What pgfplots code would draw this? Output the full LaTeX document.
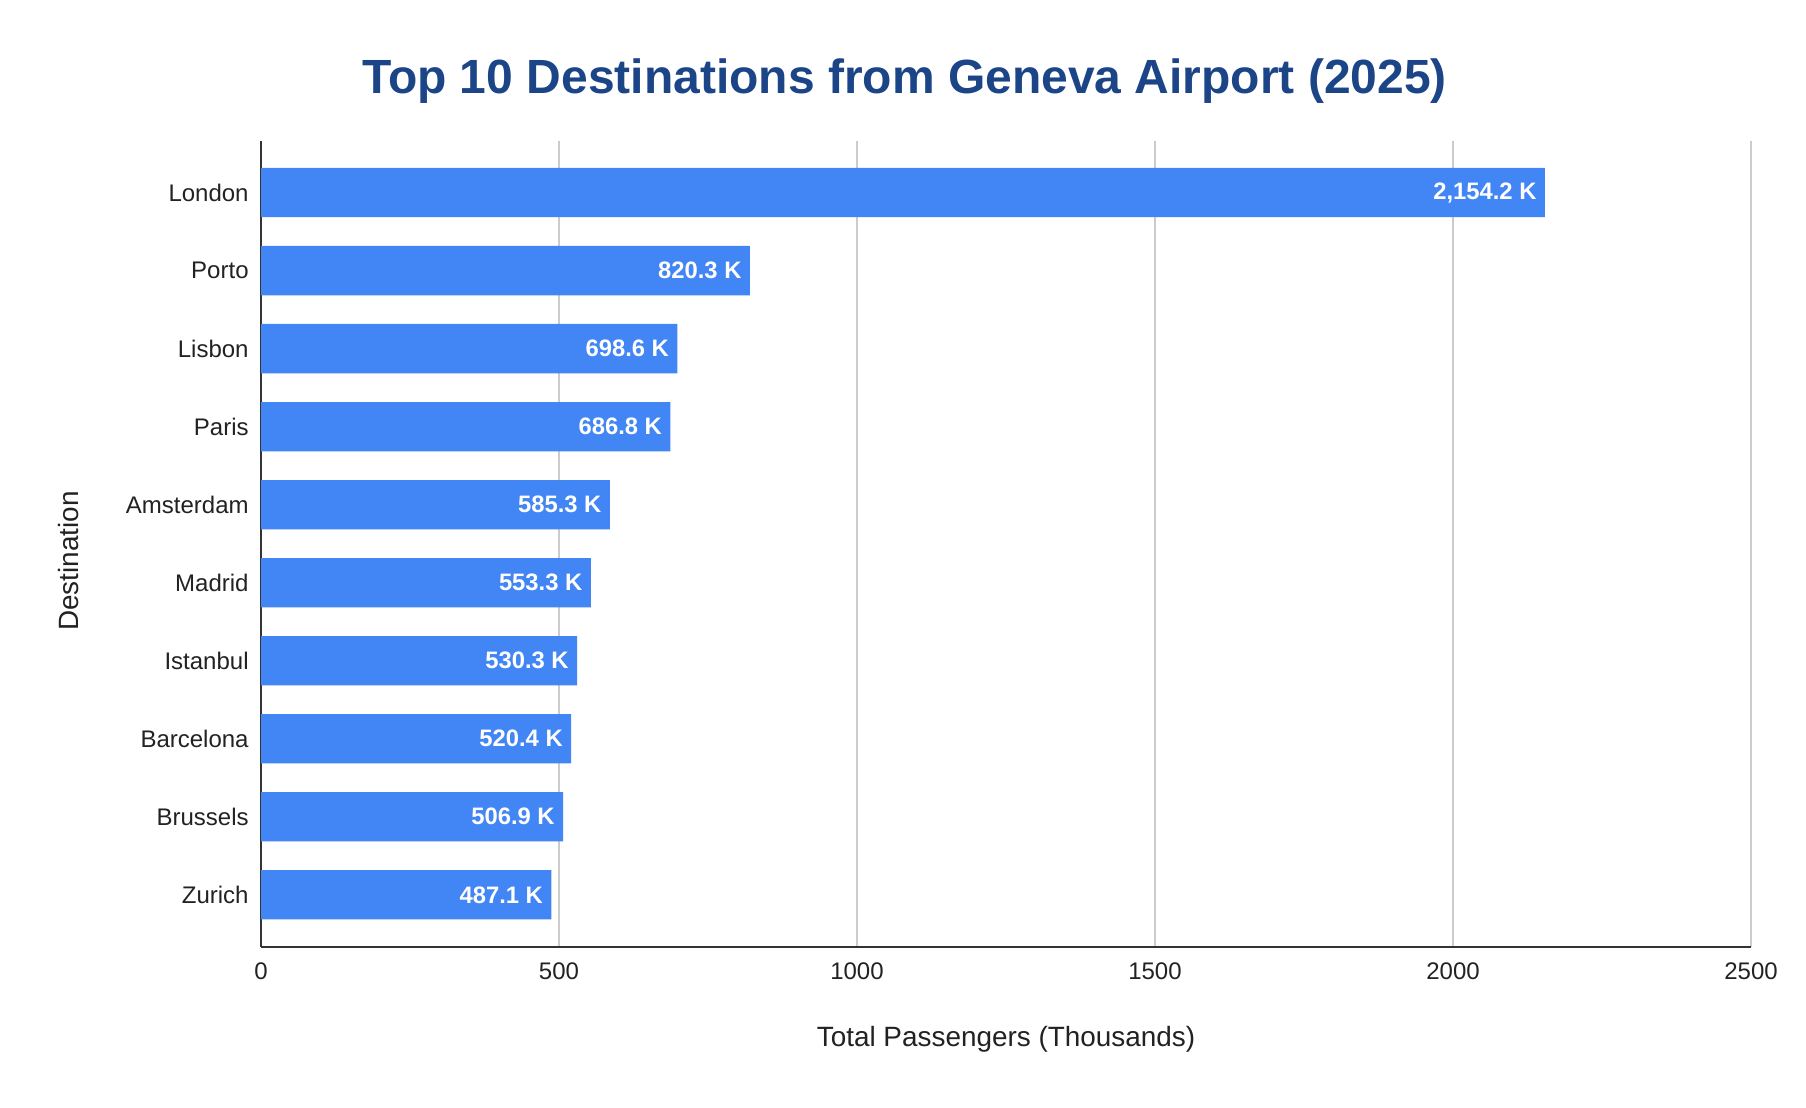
\documentclass[border=0pt]{standalone}
\usepackage{fontspec}
\setmainfont{Liberation Sans}
\usepackage{pgfplots}
\pgfplotsset{compat=1.18}
\usepackage{pgfplotstable}
\definecolor{barblue}{HTML}{4285F4}
\definecolor{titleblue}{HTML}{1C4587}
\definecolor{textgray}{HTML}{222222}
\definecolor{gridgray}{HTML}{CCCCCC}
\definecolor{axisgray}{HTML}{333333}

\pgfplotstableread[col sep=semicolon]{
pos;val;lab
0;2154.2;2,154.2 K
1;820.3;820.3 K
2;698.6;698.6 K
3;686.8;686.8 K
4;585.3;585.3 K
5;553.3;553.3 K
6;530.3;530.3 K
7;520.4;520.4 K
8;506.9;506.9 K
9;487.1;487.1 K
}\passengers

\begin{document}
\begin{tikzpicture}
\useasboundingbox (0,0) rectangle (903pt,554pt);
\node[anchor=base, text=titleblue, font=\fontsize{24}{28}\selectfont\bfseries] at (452.3pt,507pt) {Top 10 Destinations from Geneva Airport (2025)};
\begin{axis}[
  at={(130.5pt,80.65pt)}, anchor=south west,
  scale only axis, width=745pt, height=403pt,
  xbar, bar width=24.65pt,
  xmin=0, xmax=2500,
  ymin=-0.665, ymax=9.665,
  y dir=reverse,
  xtick={0,500,1000,1500,2000,2500},
  ytick={0,1,2,3,4,5,6,7,8,9},
  yticklabels={London,Porto,Lisbon,Paris,Amsterdam,Madrid,Istanbul,Barcelona,Brussels,Zurich},
  major tick length=0pt,
  axis x line*=bottom, axis y line*=left,
  axis line style={draw=axisgray, line width=1.2pt, -},
  xmajorgrids, major grid style={draw=gridgray, line width=1pt},
  /pgf/number format/assume math mode=true,
  /pgf/number format/1000 sep={},
  ticklabel style={font=\fontsize{12}{14}\selectfont, text=textgray},
  yticklabel style={anchor=east, inner sep=0pt, xshift=-6pt},
  xticklabel style={anchor=north, inner sep=0pt, yshift=-8pt},
  xlabel={Total Passengers (Thousands)},
  ylabel={Destination},
  label style={font=\fontsize{13.95}{16}\selectfont, text=textgray},
  xlabel style={at={(axis description cs:0.5,-0.1232)}, anchor=base},
  ylabel style={at={(axis description cs:-0.1228,0.4785)}, anchor=base, rotate=0},
  point meta=explicit symbolic,
  nodes near coords,
  nodes near coords style={anchor=east, inner sep=0pt, xshift=-4pt, text=white, font=\fontsize{11.9}{14}\selectfont\bfseries},
]
\addplot[fill=barblue, draw=none] table[x=val, y=pos, meta=lab] {\passengers};
\end{axis}
\end{tikzpicture}
\end{document}
